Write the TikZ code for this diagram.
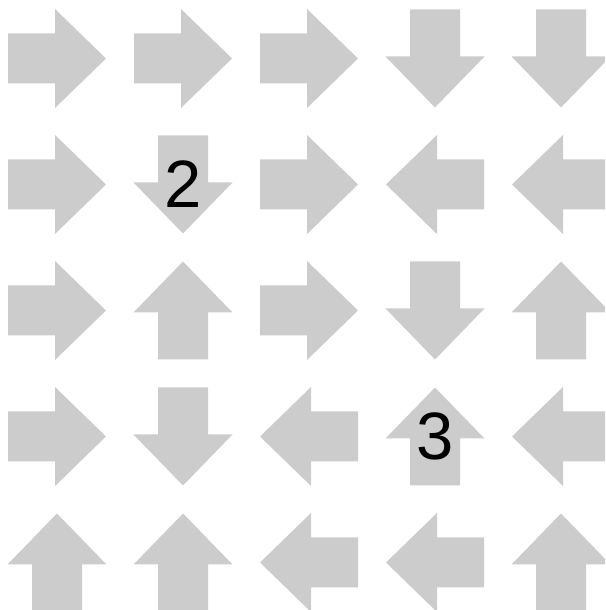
\documentclass[tikz,border=0pt]{standalone}
\usepackage{fontspec}
\setmainfont{Liberation Sans}
\definecolor{arrowgray}{HTML}{CCCCCC}
\tikzset{
  garrow/.pic={\fill[arrowgray] (-49,25) -- (-2,25) -- (-2,49.5) -- (49,0) -- (-2,-49.5) -- (-2,-25) -- (-49,-25) -- cycle;},
  digit/.style={font=\fontsize{67}{67}\selectfont, text=black, inner sep=0pt}
}
\begin{document}
\begin{tikzpicture}[x=1pt,y=1pt]
\useasboundingbox (0,0) rectangle (605,610);
\clip (0,0) rectangle (605,610);
% directions: R=0, U=90, L=180, D=270
\foreach \row/\dirs in {0/{0,0,0,270,270},1/{0,270,0,180,180},2/{0,90,0,270,90},3/{0,270,180,90,180},4/{90,90,180,180,90}}{
  \foreach \a [count=\c from 0] in \dirs {
    \pic[rotate=\a] at ({57+126*\c},{610-58.5-126*\row}) {garrow};
  }
}
\node[digit] (two) at (183,{610-184.5}) {2};
\node[digit] (three) at (435,{610-436.5}) {3};
\end{tikzpicture}
\end{document}
